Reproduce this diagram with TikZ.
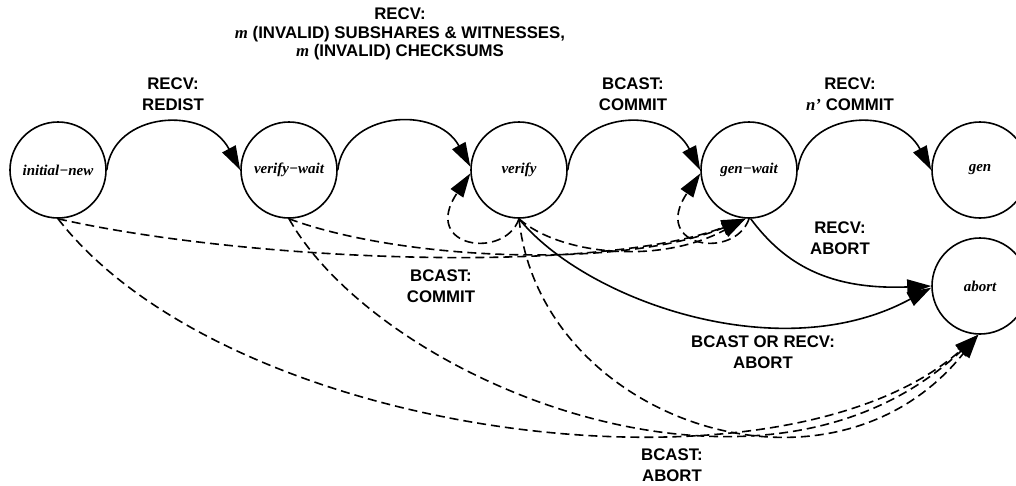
\documentclass[tikz,border=0pt]{standalone}
\usepackage{fontspec}
\setmainfont{Liberation Sans}
\newfontfamily\statefont{Liberation Serif}
\newcommand{\mvar}[1]{{\statefont\bfseries\itshape #1}}
\usetikzlibrary{arrows.meta}

\begin{document}
\begin{tikzpicture}[x=1pt,y=1pt,
  state/.style={circle, draw, line width=1.6pt, minimum size=96pt, inner sep=0pt,
    font=\statefont\bfseries\itshape\fontsize{15}{18}\selectfont},
  lbl/.style={align=center, inner sep=0pt, font=\bfseries\fontsize{16.8}{21.5}\selectfont},
  edge/.style={line width=1.6pt, -{Triangle[length=24pt,width=15pt]}},
  dedge/.style={edge, dash pattern=on 9pt off 5pt},
]
\useasboundingbox (0,0) rectangle (1016,-485);

% states
\node[state] (IN) at (58,-170)  {initial−new};
\node[state] (VW) at (289,-170) {verify−wait};
\node[state] (V)  at (519,-170) {verify};
\node[state] (GW) at (749,-170) {gen−wait};
\node[state] (G)  at (980,-170) {gen};
\node[state] (A)  at (980,-286) {abort};

% main chain of transitions
\draw[edge] (IN.east) .. controls (113,-112) and (205,-104) .. (VW.west);
\draw[edge] (VW.east) .. controls (344,-112) and (436,-104) .. (V.176);
\draw[edge] (V.east)  .. controls (574,-112) and (666,-104) .. (GW.west);
\draw[edge] (GW.east) .. controls (804,-112) and (896,-104) .. (G.west);

% aborting transitions
\draw[edge] (GW.-88) .. controls (785,-265) and (830,-290) .. (A.west);
\draw[edge] (V.-90) .. controls (585,-300) and (780,-370) .. (A.182);

% broadcast commit
\draw[dedge] (IN.-90) .. controls (250,-262) and (600,-275) .. (GW.-94);
\draw[dedge] (VW.-90) .. controls (400,-260) and (620,-270) .. (GW.-94);
\draw[dedge] (V.-90) .. controls (560,-255) and (660,-265) .. (GW.-94);
\draw[dedge] (V.-90) .. controls (505,-260) and (420,-248) .. (V.184);
\draw[dedge] (GW.-90) .. controls (735,-260) and (650,-248) .. (GW.184);

% broadcast abort
\draw[dedge] (IN.-90) .. controls (230,-440) and (780,-510) .. (A.-92);
\draw[dedge] (VW.-90) .. controls (380,-380) and (760,-540) .. (A.-92);
\draw[dedge] (V.-90) .. controls (540,-420) and (830,-520) .. (A.-92);

% labels
\node[lbl] (l1) at (173,-94) {RECV:\\REDIST};
\node[lbl, font=\bfseries\fontsize{16.8}{18.5}\selectfont] (l2) at (400,-34)
  {RECV:\\\mvar{m} (INVALID) SUBSHARES \& WITNESSES,\\\mvar{m} (INVALID) CHECKSUMS};
\node[lbl] (l3) at (633,-94) {BCAST:\\COMMIT};
\node[lbl] (l4) at (850,-94) {RECV:\\\mvar{n’} COMMIT};
\node[lbl] (l5) at (840,-238) {RECV:\\ABORT};
\node[lbl] (l6) at (763,-352) {BCAST OR RECV:\\ABORT};
\node[lbl] (l7) at (441,-286) {BCAST:\\COMMIT};
\node[lbl] (l8) at (672,-465) {BCAST:\\ABORT};
\end{tikzpicture}
\end{document}
